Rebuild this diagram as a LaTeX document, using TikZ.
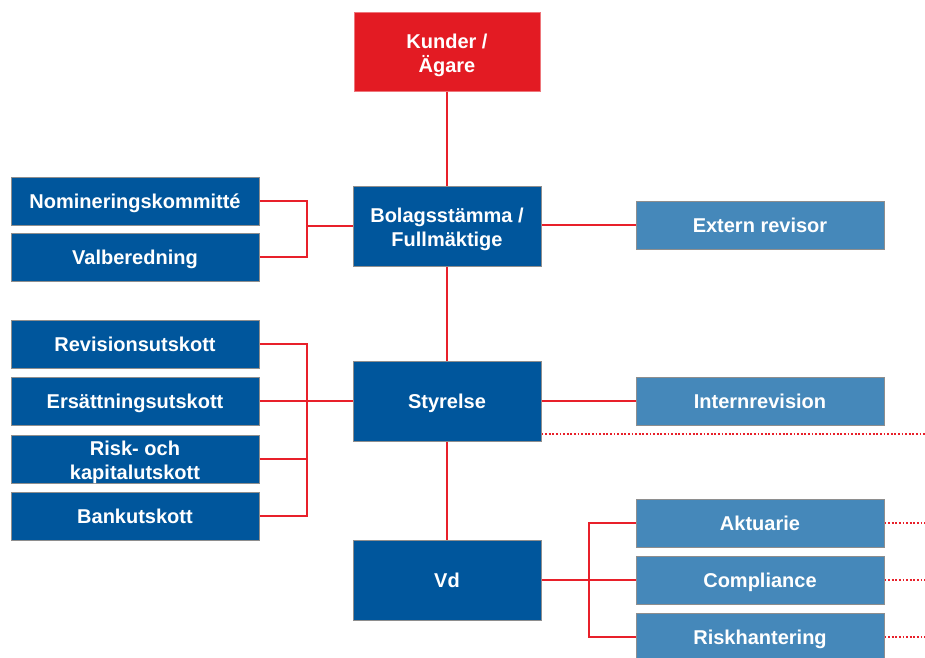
\documentclass[tikz,border=0pt]{standalone}
\usepackage{fontspec}
\setmainfont{Liberation Sans}
\definecolor{dblue}{HTML}{00569C}
\definecolor{lblue}{HTML}{4588BA}
\definecolor{kred}{HTML}{E31B23}
\definecolor{bgray}{HTML}{8E8E8E}
\definecolor{cred}{HTML}{E8202A}
\begin{document}
\begin{tikzpicture}[x=1pt,y=-1pt,
  box/.style={rectangle, draw=bgray, line width=1pt, text=white, align=center,
    font=\fontsize{20}{24}\selectfont\bfseries, inner sep=0pt,
    text height=15pt, text depth=0pt},
  twoline/.style={text height=41pt},
  mainbox/.style={box, fill=dblue, minimum width=188pt, minimum height=80pt},
  leftbox/.style={box, fill=dblue, minimum width=248pt, minimum height=48pt},
  rightbox/.style={box, fill=lblue, minimum width=248pt, minimum height=48pt},
  conn/.style={draw=cred, line width=1.7pt},
  dotconn/.style={draw=cred, line width=1.9pt, dash pattern=on 1.9pt off 1.7pt}]
\useasboundingbox (0,0) rectangle (925,657);
% main column
\node[box, twoline, fill=kred, draw=kred!60, minimum width=186pt, minimum height=79pt] (kun) at (447,51.5) {Kunder /\\Ägare};
\node[mainbox, twoline] (bol) at (447,226) {Bolagsstämma /\\Fullmäktige};
\node[mainbox] (sty) at (447,401) {Styrelse};
\node[mainbox] (vd) at (447,580) {Vd};
% left
\node[leftbox] (nom) at (135,201) {Nomineringskommitté};
\node[leftbox] (val) at (135,257) {Valberedning};
\node[leftbox] (rev) at (135,344) {Revisionsutskott};
\node[leftbox] (ers) at (135,401) {Ersättningsutskott};
\node[leftbox, twoline] (ris) at (135,459) {Risk- och\\kapitalutskott};
\node[leftbox] (ban) at (135,516) {Bankutskott};
% right
\node[rightbox] (ext) at (760,225) {Extern revisor};
\node[rightbox] (int) at (760,401) {Internrevision};
\node[rightbox] (akt) at (760,523) {Aktuarie};
\node[rightbox] (com) at (760,580) {Compliance};
\node[rightbox] (rsk) at (760,637) {Riskhantering};
% junction coordinates
\coordinate (b1) at (307,0);
\coordinate (b2) at (589,0);
\coordinate (e0) at (925,434);
\coordinate (e1) at (925,523);
\coordinate (e2) at (925,580);
\coordinate (e3) at (925,637);
% vertical spine
\draw[conn] (kun.south) -- (bol.north);
\draw[conn] (bol.south) -- (sty.north);
\draw[conn] (sty.south) -- (vd.north);
% left brackets
\draw[conn] (nom.east) -- (nom.east -| b1) -- (val.east -| b1) -- (val.east);
\draw[conn] (b1 |- bol.west) -- (bol.west);
\draw[conn] (rev.east) -- (rev.east -| b1) -- (ban.east -| b1) -- (ban.east);
\draw[conn] (ers.east) -- (sty.west);
\draw[conn] (ris.east) -- (ris.east -| b1);
% right connectors
\draw[conn] (bol.east |- ext.west) -- (ext.west);
\draw[conn] (sty.east) -- (int.west);
\draw[conn] (akt.west) -- (akt.west -| b2) -- (rsk.west -| b2) -- (rsk.west);
\draw[conn] (vd.east) -- (com.west);
% dotted lines
\draw[dotconn] (sty.east |- e0) -- (e0);
\draw[dotconn] (akt.east) -- (e1);
\draw[dotconn] (com.east) -- (e2);
\draw[dotconn] (rsk.east) -- (e3);
\end{tikzpicture}
\end{document}
